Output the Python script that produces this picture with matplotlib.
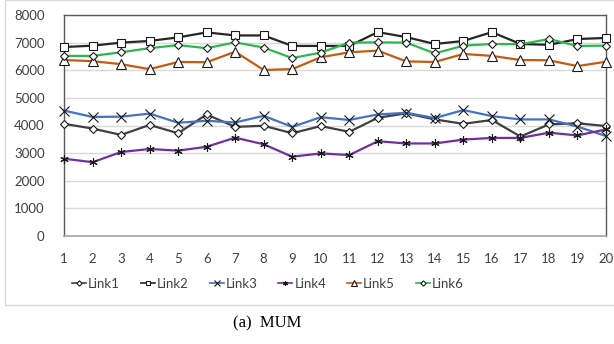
import matplotlib
matplotlib.use("Agg")
import matplotlib.pyplot as plt
from matplotlib.patches import Rectangle

# ---- data -------------------------------------------------------------------
x = list(range(1, 21))
link1 = [4060, 3890, 3660, 4020, 3720, 4400, 3950, 3990, 3720, 3980,
         3770, 4280, 4440, 4220, 4060, 4200, 3600, 4040, 4080, 3980]
link2 = [6840, 6890, 7000, 7060, 7190, 7370, 7260, 7260, 6880, 6880,
         6880, 7380, 7200, 6950, 7060, 7380, 6950, 6920, 7130, 7170]
link3 = [4540, 4310, 4320, 4430, 4100, 4170, 4110, 4350, 3950, 4300,
         4200, 4400, 4460, 4270, 4560, 4340, 4220, 4220, 3960, 3620]
link4 = [2800, 2670, 3040, 3150, 3090, 3230, 3560, 3320, 2870, 2990,
         2930, 3430, 3350, 3350, 3490, 3550, 3550, 3740, 3640, 3860]
link5 = [6370, 6330, 6220, 6040, 6300, 6290, 6670, 6010, 6040, 6470,
         6650, 6710, 6320, 6300, 6590, 6520, 6370, 6360, 6150, 6310]
link6 = [6520, 6520, 6650, 6800, 6910, 6800, 7010, 6820, 6440, 6640,
         7000, 7010, 7000, 6610, 6890, 6950, 6940, 7130, 6880, 6890]

labels = ["Link1", "Link2", "Link3", "Link4", "Link5", "Link6"]
series = [link1, link2, link3, link4, link5, link6]
colors = ["#404040", "#262626", "#4472C4", "#7030A0", "#C55A11", "#2DB84D"]
markers = ["D", "s", "x", (6, 2, 0), "^", "D"]
msizes = [4.5, 6, 7, 6, 6.5, 4.5]

plt.rcParams["font.family"] = ["Lato", "DejaVu Sans"]

fig = plt.figure(figsize=(6.14, 3.44), dpi=100)
ax = fig.add_axes([64 / 614, 1 - 236 / 344, 542 / 614, 221 / 344])

for ys, lab, c, m, ms in zip(series, labels, colors, markers, msizes):
    open_marker = m not in ("x",) and not isinstance(m, tuple)
    ax.plot(x, ys, color=c, lw=1.6, marker=m, markersize=ms,
            markerfacecolor="white" if open_marker else "none",
            markeredgecolor="#1a1a1a", markeredgewidth=0.8, label=lab,
            clip_on=False, zorder=3)

ax.set_xlim(1, 20)
ax.set_ylim(0, 8000)
ax.set_xticks(x)
ax.set_yticks(range(0, 8001, 1000))
ax.yaxis.grid(True, color="#D9D9D9", lw=1.0)
ax.set_axisbelow(True)
ax.tick_params(length=0, labelsize=9.5, colors="#404040")
ax.tick_params(axis="x", pad=12)
ax.tick_params(axis="y", pad=14)
for s in ("left", "top", "right"):
    ax.spines[s].set_color("#595959")
    ax.spines[s].set_linewidth(1.0)
ax.spines["bottom"].set_color("#A6A6A6")
ax.spines["bottom"].set_linewidth(1.2)

leg = fig.legend(loc="center", bbox_to_anchor=(268 / 614, 1 - 284 / 344),
                 ncol=6, frameon=False, fontsize=9.5, handlelength=1.05,
                 handletextpad=0.15, columnspacing=1.6, markerscale=0.6)
for t in leg.get_texts():
    t.set_color("#404040")
for h in leg.legend_handles:
    h.set_linewidth(1.2)

# light outer chart frame
fig.patches.append(Rectangle((5 / 614, 1 - 305 / 344), 1.0, 305 / 344,
                             transform=fig.transFigure, fill=False,
                             edgecolor="#D9D9D9", lw=1.0))

fig.text(267 / 614, 1 - 323 / 344, "(a)  MUM", ha="center", va="center",
         family="Liberation Serif", fontsize=12)

fig.savefig("out.png", dpi=100)
